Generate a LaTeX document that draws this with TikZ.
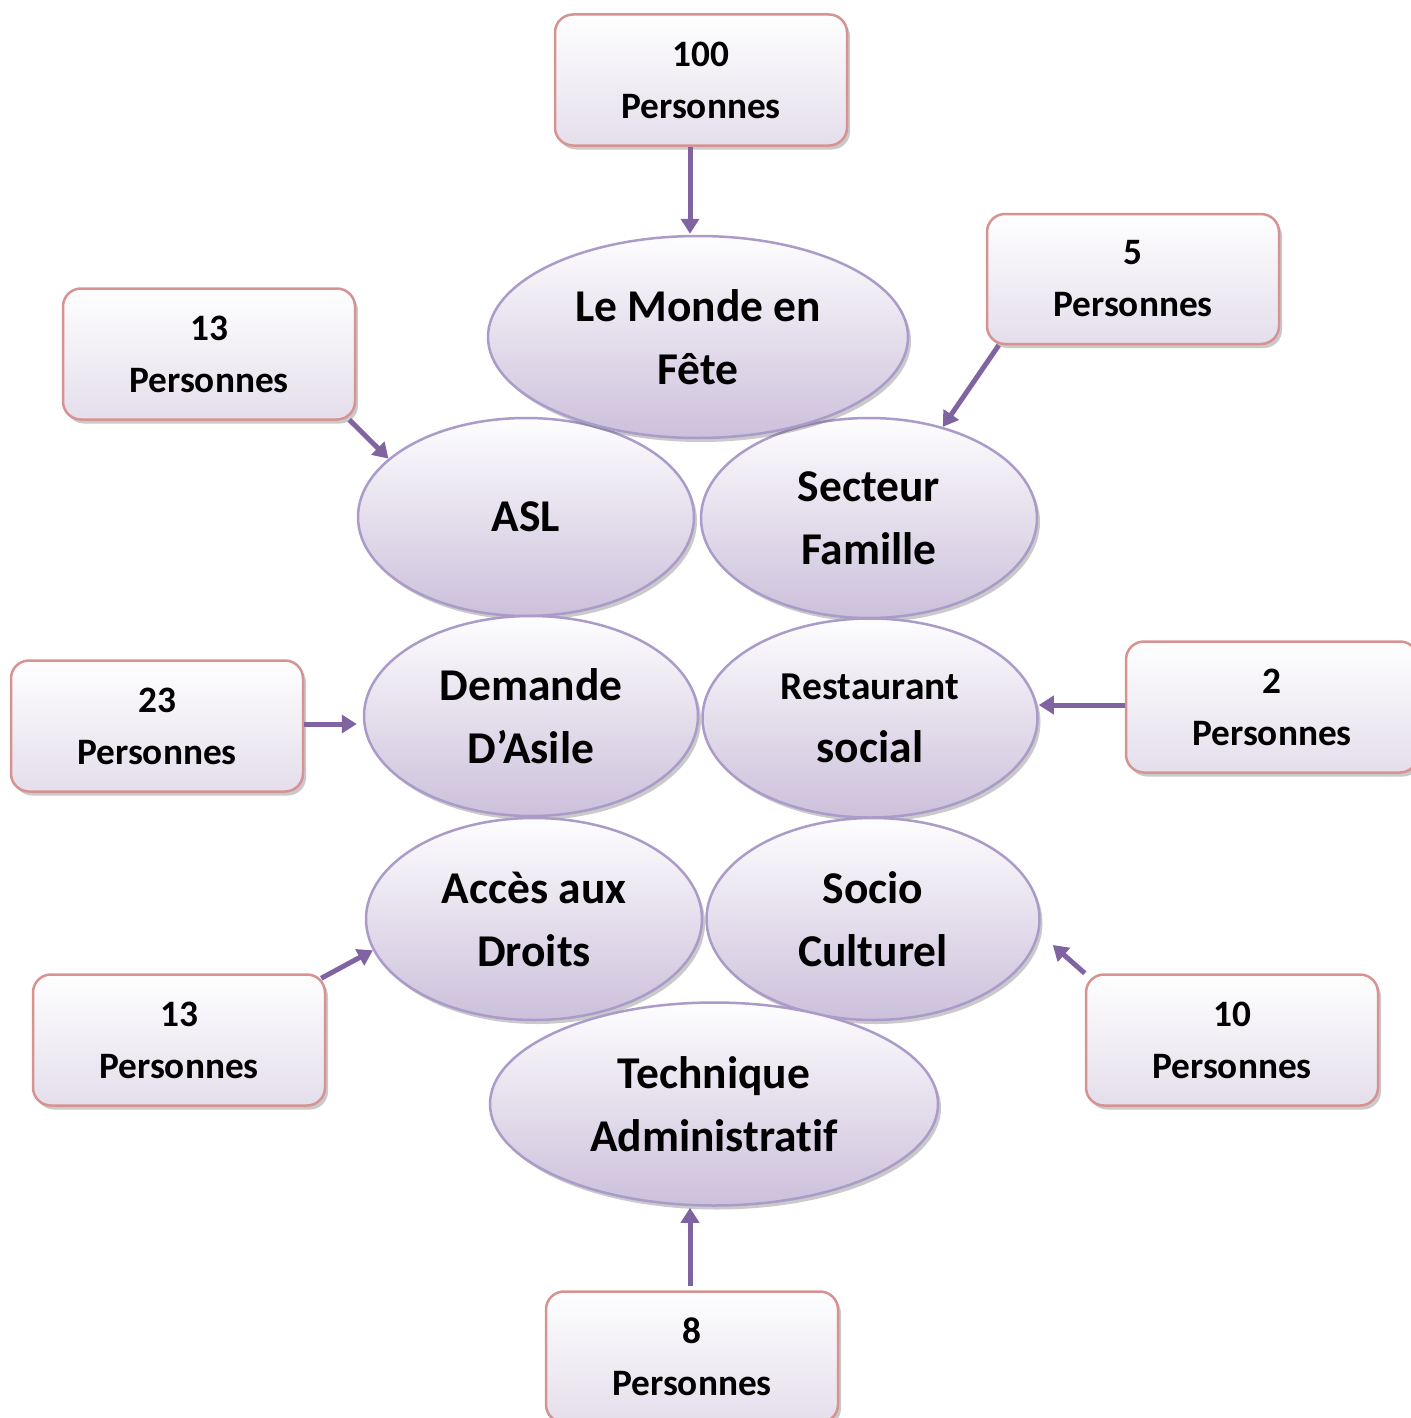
\documentclass[tikz,border=0pt]{standalone}
\usepackage{fontspec}
\setmainfont{Carlito}[Ligatures=NoCommon]
\usetikzlibrary{shapes.geometric,arrows.meta,shadows,calc}
\definecolor{arrowc}{HTML}{8064A2}
\definecolor{ellb}{HTML}{AB9BC9}
\definecolor{ellbot}{HTML}{CCC0DB}
\definecolor{boxb}{HTML}{D69392}
\definecolor{boxbot}{HTML}{E4DEEB}
\tikzset{
  oval/.style={ellipse, draw=ellb, line width=2.5pt, top color=white!97!ellbot, bottom color=ellbot,
    inner sep=0pt, align=center, font=\bfseries\fontsize{45.5}{63}\selectfont,
    drop shadow={shadow xshift=3pt,shadow yshift=-4pt,opacity=0.35,fill=black!60}},
  pbox/.style={rectangle, rounded corners=18pt, draw=boxb, line width=2.5pt, top color=white!97!boxbot,
    bottom color=boxbot, minimum width=292pt, minimum height=131pt, inner sep=0pt, align=center,
    font=\bfseries\fontsize{37.3}{52}\selectfont,
    drop shadow={shadow xshift=3pt,shadow yshift=-4pt,opacity=0.35,fill=black!60}},
  arr/.style={draw=arrowc, line width=5pt, -{Triangle[length=15pt,width=18pt]}, arrowc}
}
\begin{document}
\begin{tikzpicture}[x=1pt,y=-1pt]
\useasboundingbox (0,0) rectangle (1410,1418);
% ellipses
\node[oval, minimum width=336pt, minimum height=198pt] (asl) at (526,517) {ASL};
\node[oval, minimum width=336pt, minimum height=200pt] (secteur) at (869,518) {Secteur\\Famille};
\node[oval, minimum width=420pt, minimum height=202pt] (mfete) at (698,337) {Le Monde en\\Fête};
\node[oval, minimum width=334pt, minimum height=200pt] (demande) at (531,716) {Demande\\D’Asile};
\node[oval, minimum width=335pt, minimum height=199pt] (resto) at (870,718) {{\fontsize{39.5}{63}\selectfont Restaurant}\\social};
\node[oval, minimum width=336pt, minimum height=202pt] (acces) at (534,919) {Accès aux\\Droits};
\node[oval, minimum width=333pt, minimum height=202pt] (socio) at (873,919) {Socio\\Culturel};
\node[oval, minimum width=448pt, minimum height=203pt] (tech) at (714,1104) {Technique\\Administratif};
% boxes
\node[pbox] (b100) at (701,80) {100\\Personnes};
\node[pbox, minimum height=130pt] (b5) at (1133,279) {5\\Personnes};
\node[pbox] (b13a) at (209,354) {13\\Personnes};
\node[pbox] (b23) at (157,726) {23\\Personnes};
\node[pbox] (b2) at (1272,707) {2\\Personnes};
\node[pbox] (b13b) at (179,1040) {13\\Personnes};
\node[pbox] (b10) at (1232,1040) {10\\Personnes};
\node[pbox] (b8) at (692,1357) {8\\Personnes};
% connectors
\draw[arr] ([xshift=-11pt]b100.south) -- ([xshift=-8pt,yshift=1pt]mfete.north);
\draw[arr] ([xshift=13pt]b5.south west) -- (secteur.51);
\draw[arr] ([xshift=-7pt,yshift=1pt]b13a.south east) -- (asl.157);
\draw[arr] ([yshift=2pt]b23.east) -- ([yshift=2pt,xshift=-6pt]b23.east -| demande.west);
\draw[arr] ([yshift=2pt]b2.west) -- ([yshift=2pt]b2.west -| resto.east);
\draw[arr] ([xshift=-5pt,yshift=-5pt]b13b.north east) -- (acces.191);
\draw[arr] (b10.north west) -- ($(socio.east)+(12,26)$);
\draw[arr] ([xshift=-2pt,yshift=4pt]b8.north) -- ([xshift=-24pt,yshift=-1pt]tech.south);
\end{tikzpicture}
\end{document}
